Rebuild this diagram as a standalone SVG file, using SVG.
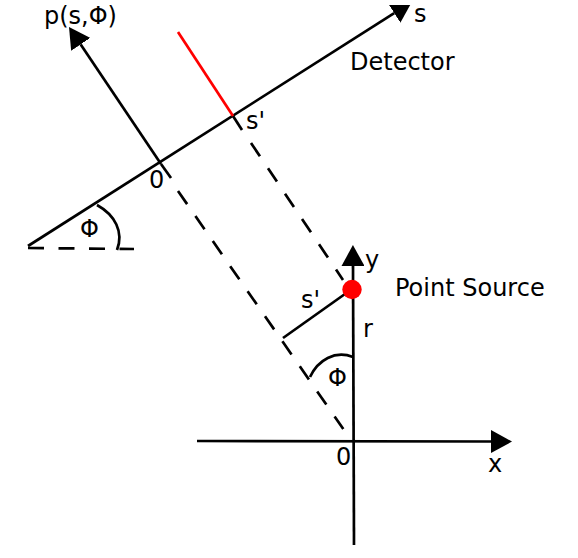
<svg xmlns="http://www.w3.org/2000/svg" width="578" height="558" viewBox="0 0 578 558">
<style>
.ln{stroke:#000;stroke-width:2.7;fill:none}
.ds{stroke:#000;stroke-width:2.7;fill:none;stroke-dasharray:16 14.5}
.t{font-family:"DejaVu Sans",sans-serif;font-size:24px;fill:#000}
</style>
<defs>
<marker id="ah" viewBox="0 0 21 23" refX="0" refY="11.5" markerWidth="21" markerHeight="23" markerUnits="userSpaceOnUse" orient="auto">
<path d="M0,0 L21,11.5 L0,23 Z" fill="#000"/>
</marker>
<clipPath id="top"><rect x="0" y="5" width="578" height="553"/></clipPath>
</defs>
<rect width="578" height="558" fill="#fff"/>
<g id="connectors">
<g clip-path="url(#top)">
<line id="detector-axis" class="ln" x1="28" y1="246" x2="394.2" y2="13.1" marker-end="url(#ah)"/>
</g>
<line id="projection-axis" class="ln" x1="161" y1="164" x2="80.7" y2="44.4" marker-end="url(#ah)"/>
<line class="ln" x1="161" y1="164" x2="171" y2="178"/>
<line class="ln" x1="233" y1="116" x2="242" y2="130"/>
<line class="ln" x1="178" y1="32" x2="233" y2="116" style="stroke:#ff0000"/>
<line class="ds" x1="178" y1="191" x2="343.3" y2="429"/>
<line class="ds" x1="251" y1="143" x2="343" y2="280"/>
<line class="ds" x1="28" y1="248" x2="134" y2="249"/>
<path class="ln" d="M97,205 C115,215 124,232 117,250"/>
<path class="ln" d="M353,357 C335,350 318,360 310,377"/>
<line class="ln" x1="352" y1="289" x2="283" y2="338"/>
<line id="x-axis" class="ln" x1="197" y1="441" x2="491" y2="441.5" marker-end="url(#ah)"/>
<line id="y-axis" class="ln" x1="354" y1="545" x2="353" y2="266" marker-end="url(#ah)"/>
</g>
<g id="point-source">
<circle cx="352" cy="289.5" r="9.7" fill="#ff0000"/>
<text class="t" x="395" y="296">Point Source</text>
</g>
<g id="detector">
<text class="t" x="350" y="70">Detector</text>
</g>
<g id="labels">
<text class="t" x="44" y="23.5">p(s,Φ)</text>
<text class="t" x="414" y="22">s</text>
<text class="t" x="246" y="129">s'</text>
<text class="t" x="149" y="188">0</text>
<text class="t" x="80" y="237">Φ</text>
<text class="t" x="365" y="268">y</text>
<text class="t" x="301" y="308">s'</text>
<text class="t" x="363" y="337">r</text>
<text class="t" x="328" y="386">Φ</text>
<text class="t" x="336" y="465">0</text>
<text class="t" x="488" y="472">x</text>
</g>
</svg>
